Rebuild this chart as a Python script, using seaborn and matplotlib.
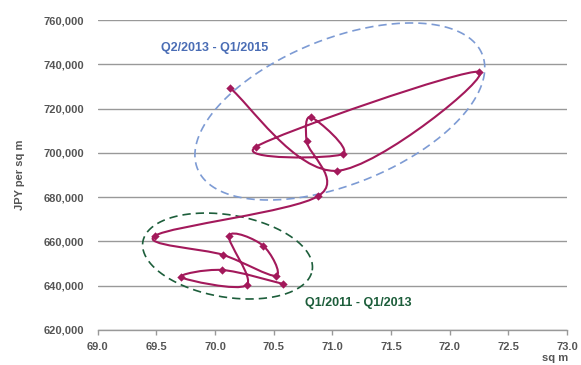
import numpy as np
import matplotlib
matplotlib.use("Agg")
import matplotlib.pyplot as plt
import seaborn as sns
import pandas as pd
from matplotlib.path import Path
from matplotlib.patches import PathPatch

# quarterly series, Q1/2011 .. Q1/2015
quarters = ["Q1/2011", "Q2/2011", "Q3/2011", "Q4/2011",
            "Q1/2012", "Q2/2012", "Q3/2012", "Q4/2012",
            "Q1/2013", "Q2/2013", "Q3/2013", "Q4/2013",
            "Q1/2014", "Q2/2014", "Q3/2014", "Q4/2014",
            "Q1/2015"]
size_sqm = [70.58, 70.06, 69.71, 70.27,
            70.12, 70.41, 70.52, 70.07,
            69.49, 70.88, 70.78, 70.82,
            71.09, 70.35, 72.25, 71.04,
            70.13]
price_jpy = [640800, 647100, 643800, 640300,
             662600, 658100, 644500, 653900,
             662600, 680500, 705400, 716100,
             699500, 702800, 736600, 691900,
             729200]

df = pd.DataFrame({"quarter": quarters, "sqm": size_sqm, "price": price_jpy})

LINE = "#a3195b"
BLUE_TXT = "#4a6db5"
BLUE_ELL = "#7d9bd4"
GREEN = "#1d5e3b"
GRAY = "#555555"

sns.set_theme(style="white")
plt.rcParams["font.family"] = ["Liberation Sans", "DejaVu Sans"]

fig = plt.figure(figsize=(5.81, 3.65), dpi=100)
ax = fig.add_axes([0.168, 0.096, 0.808, 0.849])

ax.set_xlim(69.0, 73.0)
ax.set_ylim(620000, 760000)

# smooth line (Catmull-Rom style bezier, like a spreadsheet smoothed line)
pts = df[["sqm", "price"]].to_numpy(dtype=float)
n = len(pts)
verts = [pts[0]]
codes = [Path.MOVETO]
for i in range(n - 1):
    p0 = pts[i - 1] if i > 0 else pts[i]
    p1 = pts[i]
    p2 = pts[i + 1]
    p3 = pts[i + 2] if i + 2 < n else pts[i + 1]
    c1 = p1 + (p2 - p0) / 6.0
    c2 = p2 - (p3 - p1) / 6.0
    verts += [c1, c2, p2]
    codes += [Path.CURVE4] * 3
ax.add_patch(PathPatch(Path(verts, codes), fill=False, edgecolor=LINE,
                       linewidth=1.5, zorder=3))

sns.scatterplot(data=df, x="sqm", y="price", marker="D", s=18,
                color=LINE, edgecolor=LINE, linewidth=0, zorder=4, ax=ax)

# dashed ellipses, sized in pixels then mapped to data units
px_x = 469.6 / 4.0
px_y = 310.0 / 140000.0


def draw_ellipse(cx, cy, a, b, ang, color):
    t = np.linspace(0, 2 * np.pi, 300)
    th = np.deg2rad(ang)
    u = a * np.cos(t)
    v = b * np.sin(t)
    du = u * np.cos(th) - v * np.sin(th)
    dv = u * np.sin(th) + v * np.cos(th)
    ax.plot(cx + du / px_x, cy + dv / px_y, color=color, lw=1.2,
            dashes=(5, 3), zorder=2)


draw_ellipse(71.064, 718700, 153.5, 72.8, 21.9, BLUE_ELL)
draw_ellipse(70.107, 653400, 85.9, 41.1, -9.6, GREEN)

ax.text(70.0, 747300, "Q2/2013 - Q1/2015", color=BLUE_TXT,
        fontsize=9, fontweight="bold", ha="center", va="center")
ax.text(71.22, 632200, "Q1/2011 - Q1/2013", color=GREEN,
        fontsize=9, fontweight="bold", ha="center", va="center")

# axes styling
ax.set_xticks(np.arange(69.0, 73.01, 0.5))
ax.set_xticklabels([f"{v:.1f}" for v in np.arange(69.0, 73.01, 0.5)])
ax.set_yticks(np.arange(620000, 760001, 20000))
ax.set_yticklabels([f"{v:,}" for v in range(620000, 760001, 20000)])
ax.grid(axis="y", color="#999999", linewidth=1)
ax.grid(axis="x", visible=False)
for s in ["top", "right", "left"]:
    ax.spines[s].set_visible(False)
ax.spines["bottom"].set_color("#999999")
ax.spines["bottom"].set_linewidth(1)

ax.tick_params(axis="y", length=0, pad=10, labelsize=8, labelcolor=GRAY)
ax.tick_params(axis="x", length=3.5, width=1, color="#999999", direction="out",
               bottom=True, pad=5, labelsize=8, labelcolor=GRAY)
for lab in ax.get_xticklabels() + ax.get_yticklabels():
    lab.set_fontweight("bold")

ax.set_xlabel("")
ax.set_ylabel("JPY per sq m", fontsize=8, fontweight="bold", color=GRAY)
ax.yaxis.set_label_coords(-0.155, 0.5)
ax.text(0.975, -0.090, "sq m", transform=ax.transAxes, fontsize=8,
        fontweight="bold", color=GRAY, ha="center", va="center", clip_on=False)

fig.savefig("out.png", dpi=100)
